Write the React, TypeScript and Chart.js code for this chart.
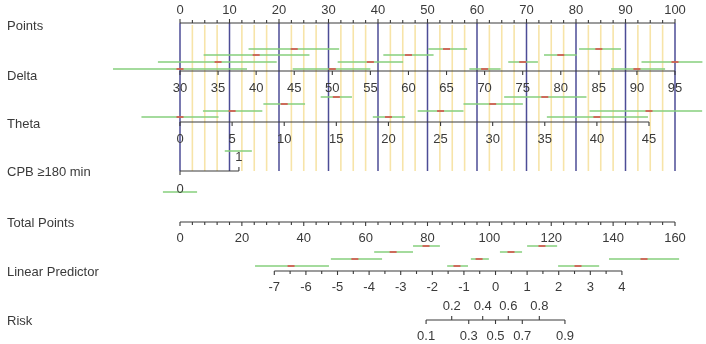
import React, { useEffect, useRef } from "react";
import { Chart, registerables } from "chart.js";
Chart.register(...registerables);

// ---------- Axis tick labels ----------
const pointsTicks = [0, 10, 20, 30, 40, 50, 60, 70, 80, 90, 100];
const deltaTicks = [30, 35, 40, 45, 50, 55, 60, 65, 70, 75, 80, 85, 90, 95];
const thetaTicks = [0, 5, 10, 15, 20, 25, 30, 35, 40, 45];
const cpbLevels = [0, 1];
const totalPointsTicks = [0, 20, 40, 60, 80, 100, 120, 140, 160];
const lpTicks = [-7, -6, -5, -4, -3, -2, -1, 0, 1, 2, 3, 4];
const riskUpper = [0.2, 0.4, 0.6, 0.8];
const riskLower = [0.1, 0.3, 0.5, 0.7, 0.9];
const rowLabels = ["Points", "Delta", "Theta", "CPB \u2265180 min", "Total Points", "Linear Predictor", "Risk"];

// ---------- Interval overlays (low / mid / high, native units) ----------
const deltaMid = [30, 35, 40, 45, 50, 55, 60, 65, 70, 75, 80, 85, 90, 95];
const deltaLow = [21.2, 27.1, 33.1, 39.0, 44.8, 50.7, 56.7, 62.6, 68.0, 73.1, 77.8, 82.4, 86.6, 90.6];
const deltaHigh = [38.8, 42.7, 47.0, 50.9, 55.0, 59.3, 63.3, 67.7, 72.1, 77.0, 82.1, 87.9, 93.7, 98.6];

const thetaMid = [0, 5, 10, 15, 20, 25, 30, 35, 40, 45];
const thetaLow = [-3.7, 2.2, 8.0, 13.5, 18.5, 22.8, 27.2, 31.1, 35.2, 39.3];
const thetaHigh = [3.7, 7.9, 12.0, 16.5, 21.6, 27.2, 32.9, 39.0, 44.9, 50.1];

const cpbMid = [0, 1];
const cpbLow = [-0.29, 0.76];
const cpbHigh = [0.29, 1.22];

const lpMid = [-6.47, -4.45, -3.24, -2.2, -1.22, -0.52, 0.49, 1.47, 2.61, 4.7];
const lpLow = [-7.61, -5.21, -3.84, -2.61, -1.53, -0.78, 0.14, 1.0, 1.98, 3.59];
const lpHigh = [-5.27, -3.59, -2.61, -1.76, -0.87, -0.21, 0.84, 1.95, 3.28, 5.81];

// ---------- Model scaling (value -> points) ----------
const deltaPts = (d: number) => ((d - 30) * 100) / 65;
const thetaPts = (t: number) => t * 2.1055;
const cpbPts = (c: number) => c * 11.9;
const totalPts = (tp: number) => (tp * 100) / 160;
const lpPts = (l: number) => 63.74 + 6.384 * l;
const logit = (r: number) => Math.log(r / (1 - r));

// ---------- Layout ----------
const W = 706;
const H = 344;
const ROW = { points: 23, delta: 71, theta: 122, cpb: 171, total: 222, lp: 271, risk: 320 };
const ROW_LABEL_Y = [26, 76, 124, 172, 223, 272, 321];
const DELTA_LANES = [-2, -9, -16, -22];
const THETA_LANES = [-5, -11, -18, -25];
const LP_LANES = [-5, -12, -19, -25];
const CPB_LANES = [21, -20];
const X_MIN = -180 / 4.95;
const X_MAX = (W - 180) / 4.95;

const FONT = '13px "Liberation Sans", Arial, sans-serif';
const TEXT = "#3a3a3a";
const AXIS = "#3a3a3a";
const PURPLE = "#4d4d96";
const YELLOW = "#f7e4a8";
const GREEN = "#86cf7e";
const RED = "#d8504c";

function segments(list: { x1: number; x2: number; y1: number; y2: number }[]) {
  const out: any[] = [];
  list.forEach((s) => {
    out.push({ x: s.x1, y: s.y1 });
    out.push({ x: s.x2, y: s.y2 });
    out.push({ x: s.x2, y: null });
  });
  return out;
}

function buildIntervals() {
  const segs: { x1: number; x2: number; y1: number; y2: number }[] = [];
  const mids: { x: number; y: number }[] = [];
  deltaMid.forEach((m, i) => {
    const y = ROW.delta + DELTA_LANES[i % 4];
    segs.push({ x1: deltaPts(deltaLow[i]), x2: deltaPts(deltaHigh[i]), y1: y, y2: y });
    mids.push({ x: deltaPts(m), y });
  });
  thetaMid.forEach((m, i) => {
    const y = ROW.theta + THETA_LANES[i % 4];
    segs.push({ x1: thetaPts(thetaLow[i]), x2: thetaPts(thetaHigh[i]), y1: y, y2: y });
    mids.push({ x: thetaPts(m), y });
  });
  cpbMid.forEach((m, i) => {
    const y = ROW.cpb + CPB_LANES[i];
    segs.push({ x1: cpbPts(cpbLow[i]), x2: cpbPts(cpbHigh[i]), y1: y, y2: y });
  });
  lpMid.forEach((m, i) => {
    const y = ROW.lp + LP_LANES[i % 4];
    segs.push({ x1: lpPts(lpLow[i]), x2: lpPts(lpHigh[i]), y1: y, y2: y });
    mids.push({ x: lpPts(m), y });
  });
  return { segs, mids };
}

function buildGrid() {
  const purple: any[] = [];
  const yellow: any[] = [];
  for (let k = 0; k < pointsTicks.length; k++) {
    const p = pointsTicks[k];
    purple.push({ x1: p, x2: p, y1: ROW.points, y2: ROW.cpb });
    if (k < pointsTicks.length - 1) {
      const step = (pointsTicks[k + 1] - p) / 4;
      for (let j = 1; j < 4; j++) {
        const q = p + step * j;
        yellow.push({ x1: q, x2: q, y1: ROW.points + 2, y2: ROW.cpb });
      }
    }
  }
  return { purple, yellow };
}

const nomoPlugin = {
  id: "nomo",
  afterDatasetsDraw(chart: any) {
    const ctx = chart.ctx;
    const xs = chart.scales.x;
    const ys = chart.scales.y;
    const X = (p: number) => xs.getPixelForValue(p);
    const Y = (v: number) => ys.getPixelForValue(v);
    ctx.save();
    ctx.strokeStyle = AXIS;
    ctx.fillStyle = TEXT;
    ctx.lineWidth = 1.1;
    ctx.font = FONT;
    ctx.textBaseline = "middle";

    const line = (p1: number, p2: number, row: number) => {
      ctx.beginPath();
      ctx.moveTo(X(p1), Y(row));
      ctx.lineTo(X(p2), Y(row));
      ctx.stroke();
    };
    const tick = (p: number, row: number, len: number) => {
      ctx.beginPath();
      ctx.moveTo(X(p), Y(row));
      ctx.lineTo(X(p), Y(row + len));
      ctx.stroke();
    };
    const label = (txt: string, p: number, yv: number) => {
      ctx.textAlign = "center";
      ctx.fillText(txt, X(p), Y(yv));
    };

    // Points
    line(0, 100, ROW.points);
    for (let k = 0; k < pointsTicks.length; k++) {
      tick(pointsTicks[k], ROW.points, -4);
      label(String(pointsTicks[k]), pointsTicks[k], ROW.points - 13);
      if (k < pointsTicks.length - 1) {
        const step = (pointsTicks[k + 1] - pointsTicks[k]) / 4;
        for (let j = 1; j < 4; j++) tick(pointsTicks[k] + step * j, ROW.points, -3);
      }
    }
    // Delta
    line(deltaPts(deltaTicks[0]), deltaPts(deltaTicks[deltaTicks.length - 1]), ROW.delta);
    deltaTicks.forEach((d) => {
      tick(deltaPts(d), ROW.delta, 4);
      label(String(d), deltaPts(d), ROW.delta + 17);
    });
    // Theta
    line(thetaPts(thetaTicks[0]), thetaPts(thetaTicks[thetaTicks.length - 1]), ROW.theta);
    thetaTicks.forEach((t) => {
      tick(thetaPts(t), ROW.theta, 4);
      label(String(t), thetaPts(t), ROW.theta + 17);
    });
    // CPB
    line(cpbPts(0), cpbPts(1), ROW.cpb);
    tick(cpbPts(cpbLevels[1]), ROW.cpb, -4);
    label(String(cpbLevels[1]), cpbPts(cpbLevels[1]), ROW.cpb - 13.5);
    tick(cpbPts(cpbLevels[0]), ROW.cpb, 4);
    label(String(cpbLevels[0]), cpbPts(cpbLevels[0]), ROW.cpb + 18);
    // Total points
    line(totalPts(0), totalPts(160), ROW.total);
    for (let k = 0; k < totalPointsTicks.length; k++) {
      const t = totalPointsTicks[k];
      tick(totalPts(t), ROW.total, 4);
      label(String(t), totalPts(t), ROW.total + 16);
      if (k < totalPointsTicks.length - 1) {
        const step = (totalPointsTicks[k + 1] - t) / 5;
        for (let j = 1; j < 5; j++) tick(totalPts(t + step * j), ROW.total, 3);
      }
    }
    // Linear predictor
    line(lpPts(lpTicks[0]), lpPts(lpTicks[lpTicks.length - 1]), ROW.lp);
    for (let k = 0; k < lpTicks.length; k++) {
      const l = lpTicks[k];
      tick(lpPts(l), ROW.lp, 4);
      label(String(l), lpPts(l), ROW.lp + 16);
      if (k < lpTicks.length - 1) tick(lpPts(l + 0.5), ROW.lp, 3);
    }
    // Risk
    line(lpPts(logit(riskLower[0])), lpPts(logit(riskLower[riskLower.length - 1])), ROW.risk);
    riskUpper.forEach((r) => {
      tick(lpPts(logit(r)), ROW.risk, -4);
      label(String(r), lpPts(logit(r)), ROW.risk - 14);
    });
    riskLower.forEach((r) => {
      tick(lpPts(logit(r)), ROW.risk, 4);
      label(String(r), lpPts(logit(r)), ROW.risk + 16);
    });

    // Row labels
    ctx.textAlign = "left";
    rowLabels.forEach((t, i) => {
      ctx.fillText(t, 7, Y(ROW_LABEL_Y[i]));
    });
    ctx.restore();
  },
};

export default function App() {
  const ref = useRef<HTMLCanvasElement | null>(null);
  useEffect(() => {
    if (!ref.current) return;
    const { segs, mids } = buildIntervals();
    const { purple, yellow } = buildGrid();
    const chart = new Chart(ref.current, {
      type: "line",
      data: {
        datasets: [
          {
            data: mids,
            type: "scatter",
            showLine: false,
            pointStyle: "line",
            pointRadius: 3.5,
            pointBorderColor: RED,
            pointBorderWidth: 1.6,
            borderColor: RED,
            order: 1,
          } as any,
          {
            data: segments(segs),
            borderColor: GREEN,
            borderWidth: 1.6,
            pointRadius: 0,
            spanGaps: false,
            order: 2,
          },
          {
            data: segments(purple),
            borderColor: PURPLE,
            borderWidth: 1.5,
            pointRadius: 0,
            spanGaps: false,
            order: 4,
          },
          {
            data: segments(yellow),
            borderColor: YELLOW,
            borderWidth: 1.6,
            pointRadius: 0,
            spanGaps: false,
            order: 5,
          },
        ],
      },
      options: {
        responsive: false,
        maintainAspectRatio: false,
        animation: false,
        devicePixelRatio: 1,
        events: [],
        layout: { padding: 0, autoPadding: false },
        plugins: { legend: { display: false }, tooltip: { enabled: false } },
        scales: {
          x: { type: "linear", min: X_MIN, max: X_MAX, display: false },
          y: { type: "linear", min: 0, max: H, reverse: true, display: false },
        },
      },
      plugins: [nomoPlugin],
    });
    return () => chart.destroy();
  }, []);
  return (
    <div style={{ position: "fixed", left: 0, top: 0, width: W, height: H, background: "#fff" }}>
      <canvas ref={ref} width={W} height={H} style={{ display: "block" }} />
    </div>
  );
}
